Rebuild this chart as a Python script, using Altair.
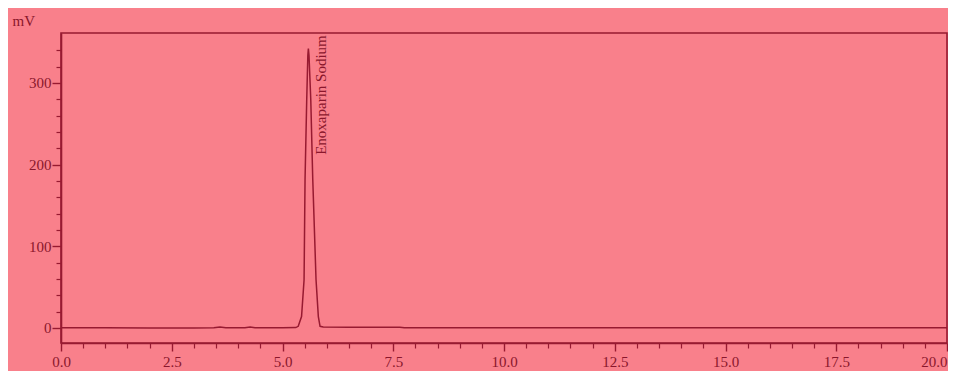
import altair as alt
import pandas as pd

# ---- data ----
time_min = [0.0, 1.0, 2.0, 3.0, 3.45, 3.59, 3.72, 4.15, 4.27, 4.38, 5.0, 5.30,
            5.355, 5.43, 5.487, 5.509, 5.547, 5.572, 5.584, 5.598, 5.638, 5.683,
            5.757, 5.809, 5.848, 5.92, 6.5, 7.0, 7.65, 7.75, 10.0, 12.5, 15.0,
            17.5, 20.0]
signal_mv = [0.3, 0.3, 0.0, 0.0, 0.2, 1.3, 0.2, 0.3, 1.3, 0.3, 0.3, 0.5,
             2.0, 14, 59, 182, 280, 334, 342, 334, 280, 182,
             59, 14, 2.0, 1.2, 1.0, 1.0, 1.0, 0.2, 0.2, 0.2, 0.2,
             0.2, 0.2]

peak_name = ["Enoxaparin Sodium"]
peak_time = [5.584]
peak_label_mv = [212]

x_major = [0.0, 2.5, 5.0, 7.5, 10.0, 12.5, 15.0, 17.5, 20.0]
x_minor = [0.5, 1.0, 1.5, 2.0, 3.0, 3.5, 4.0, 4.5, 5.5, 6.0, 6.5, 7.0, 8.0,
           8.5, 9.0, 9.5, 10.5, 11.0, 11.5, 12.0, 13.0, 13.5, 14.0, 14.5,
           15.5, 16.0, 16.5, 17.0, 18.0, 18.5, 19.0, 19.5]
y_major = [0, 100, 200, 300]
y_minor = [20, 40, 60, 80, 120, 140, 160, 180, 220, 240, 260, 280, 320, 340]

PINK = "#F9808B"
DARK = "#971A31"
TEXT = "#8A172C"
FONT = "Liberation Serif"

trace = pd.DataFrame({"t": time_min, "mv": signal_mv})
ann = pd.DataFrame({"t": peak_time, "mv": peak_label_mv, "name": peak_name})

x_scale = alt.Scale(domain=[0, 20], nice=False, zero=False)
y_scale = alt.Scale(domain=[-18.4, 361.2], nice=False, zero=False)

common = dict(grid=False, tickColor=DARK, domainColor=DARK, domainWidth=1.6,
              labelFont=FONT, labelFontSize=15, labelColor=TEXT)

x_major_axis = alt.Axis(orient="bottom", values=x_major, format=".1f", title=None,
                        tickSize=8, tickWidth=1.4, labelPadding=3, labelFlush=False,
                        labelAlign={"condition": {"test": "datum.value >= 20", "value": "right"},
                                    "value": "center"},
                        **common)
x_minor_axis = alt.Axis(orient="bottom", values=x_minor, title=None, labels=False,
                        domain=False, tickSize=5, tickWidth=1.2, grid=False, tickColor=DARK)
y_major_axis = alt.Axis(orient="left", values=y_major, format="d", title="mV",
                        tickSize=9, tickWidth=1.4, labelPadding=1,
                        titleAngle=0, titleX=-49, titleY=-8, titleAlign="left",
                        titleBaseline="alphabetic", titleFont=FONT, titleFontSize=15,
                        titleFontWeight="normal", titleColor=TEXT,
                        **common)
y_minor_axis = alt.Axis(orient="left", values=y_minor, title=None, labels=False,
                        domain=False, tickSize=5, tickWidth=1.2, grid=False, tickColor=DARK)

line = alt.Chart(trace).mark_line(color=DARK, strokeWidth=1.5).encode(
    x=alt.X("t:Q", scale=x_scale, axis=x_major_axis),
    y=alt.Y("mv:Q", scale=y_scale, axis=y_major_axis),
)

label = alt.Chart(ann).mark_text(
    angle=270, align="left", baseline="alphabetic", dy=18,
    font=FONT, fontSize=15, color=TEXT,
).encode(
    x=alt.X("t:Q", scale=x_scale, axis=x_minor_axis),
    y=alt.Y("mv:Q", scale=y_scale, axis=y_minor_axis),
    text="name:N",
)

chart = (
    alt.layer(line, label)
    .resolve_axis(x="independent", y="independent")
    .properties(
        width=886,
        height=310,
        padding={"left": 53, "top": 25, "right": 1, "bottom": 28},
        autosize=alt.AutoSizeParams(type="none"),
        background=PINK,
    )
    .configure_view(stroke=DARK, strokeWidth=1.6, fill=PINK)
)

chart.save("out.html", embed_options={"renderer": "svg", "actions": False})
